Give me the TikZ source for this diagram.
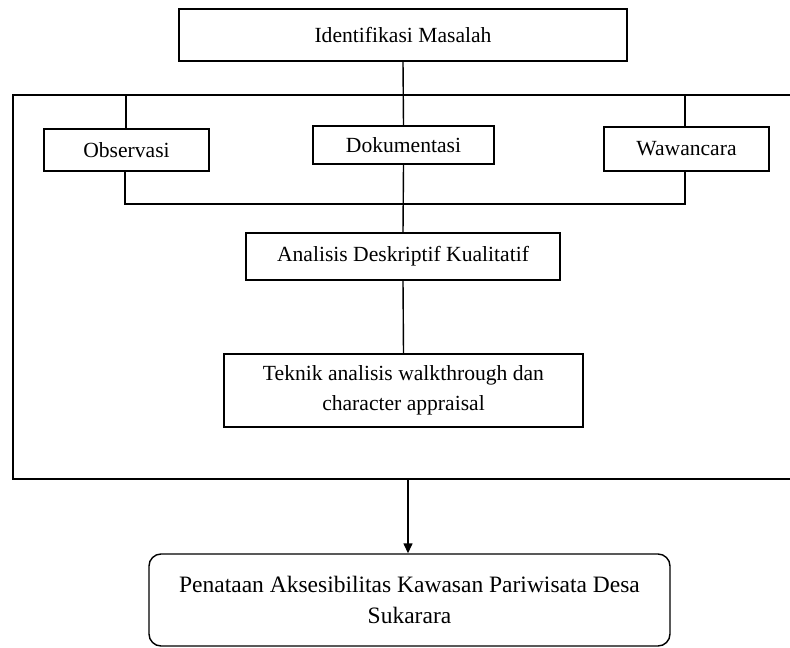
\documentclass[tikz,border=0pt]{standalone}
\usepackage{fontspec}
\setmainfont{Liberation Serif}
\usetikzlibrary{arrows.meta,calc}
\begin{document}
\begin{tikzpicture}[x=1pt,y=-1pt,
  line width=1.4pt,
  box/.style={draw, rectangle, inner sep=0pt, align=center,
    font=\fontsize{21.6}{29.5}\selectfont},
  rbox/.style={box, rounded corners=12pt, font=\fontsize{23.5}{31}\selectfont},
  conn/.style={draw, line width=1.4pt},
  arr/.style={conn, -{Triangle[width=9pt,length=10pt]}}]
\useasboundingbox (0,0) rectangle (790,648);
% outer frame (open on the right)
\coordinate (tr) at (790,95);
\coordinate (tl) at (13,95);
\coordinate (bl) at (13,479);
\coordinate (br) at (790,479);
\draw[conn] (tr) -- (tl) -- (bl) -- (br);
% boxes
\node[box, minimum width=448pt, minimum height=52pt] (ident) at (403,35) {Identifikasi Masalah};
\node[box, minimum width=165pt, minimum height=42pt] (obs) at (126.5,150) {Observasi};
\node[box, minimum width=181pt, minimum height=38pt] (dok) at (403.5,145) {Dokumentasi};
\node[box, minimum width=165pt, minimum height=44pt] (waw) at (686.5,149) {Wawancara};
\node[box, minimum width=314pt, minimum height=47pt] (ana) at (403,256.5) {Analisis Deskriptif Kualitatif};
\node[box, minimum width=359pt, minimum height=73pt] (tek) at (403.5,390.5) {Teknik analisis walkthrough dan\\character appraisal};
\node[rbox, minimum width=521pt, minimum height=92pt] (fin) at (409.5,600) {Penataan Aksesibilitas Kawasan Pariwisata Desa\\Sukarara};
% connectors
\coordinate (tobs) at (126,95);
\coordinate (twaw) at (685,95);
\coordinate (bobs) at (125,204);
\coordinate (bwaw) at (685,204);
\coordinate (aout) at (408,479);
\draw[conn] (ident.south) -- (dok.north);
\draw[conn] (tobs) -- (tobs |- obs.north);
\draw[conn] (twaw) -- (twaw |- waw.north);
\draw[conn] (bobs |- obs.south) -- (bobs) -- (bwaw) -- (bwaw |- waw.south);
\draw[conn] (dok.south) -- (ana.north);
\draw[conn] (ana.south) -- (tek.north);
\draw[arr] (aout) -- (aout |- fin.north);
\end{tikzpicture}
\end{document}
